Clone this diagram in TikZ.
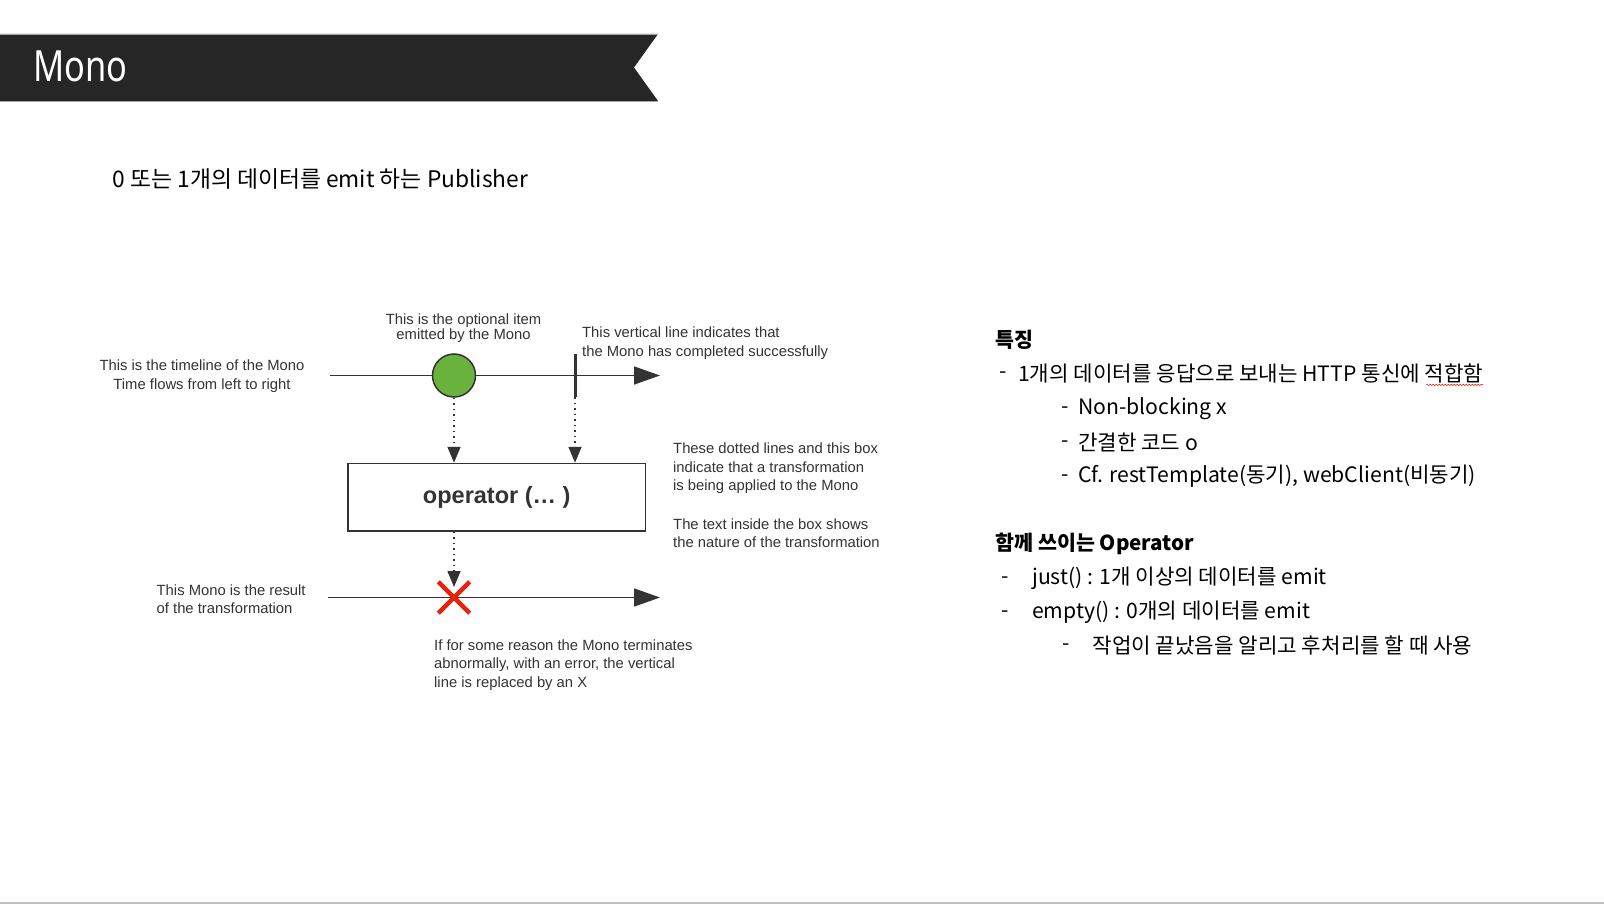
\documentclass[tikz,border=0pt]{standalone}
\usepackage{fontspec}
\usetikzlibrary{arrows.meta,decorations.pathmorphing}
\newfontfamily\kr{Noto Sans CJK KR}
\newfontfamily\lab{Liberation Sans}
\newfontfamily\ttl[FakeStretch=0.8]{Noto Sans}
\definecolor{banner}{RGB}{38,38,38}
\definecolor{ink}{RGB}{51,51,51}
\definecolor{itemgreen}{RGB}{106,178,62}
\definecolor{errred}{RGB}{232,33,11}
\begin{document}
\begin{tikzpicture}[x=1pt,y=-1pt,
  lbl/.style={font=\lab\fontsize{14.8}{18.4}\selectfont, text=ink, inner sep=0pt},
  body/.style={font=\kr\fontsize{21.2}{25}\selectfont, text=black, inner sep=0pt, anchor=west},
  bullet/.style={body, yshift=-2pt},
  head/.style={body, font=\kr\bfseries\fontsize{20.6}{25}\selectfont},
  tline/.style={draw=ink, line width=1.5pt, -{Triangle[length=26pt,width=18pt]}},
  dotarrow/.style={draw=ink, line width=1.5pt, dash pattern=on 1.5pt off 4pt, -{Triangle[length=16pt,width=13pt]}}
]
\useasboundingbox (0,0) rectangle (1604,904);
\fill[white] (0,0) rectangle (1604,904);
\draw[gray!50, line width=1.5pt] (0,903) -- (1604,903);

% banner
\fill[banner] (0,34) -- (658,34) -- (634,67.5) -- (658,101) -- (0,101) -- cycle;
\draw[gray!70, line width=0.8pt] (0,34) -- (658,34) (0,101) -- (658,101);
\node[anchor=west, text=white, font=\ttl\fontsize{43}{43}\selectfont, inner sep=0pt] (title) at (33,66) {Mono};

\node[body, font=\kr\fontsize{22.8}{27}\selectfont] (sub) at (112.5,179) {0 또는 1개의 데이터를 emit 하는 Publisher};

% diagram
\coordinate (t1s) at (330,375.5);
\coordinate (t1e) at (660,375.5);
\draw[tline] (t1s) -- (t1e);
\node[circle, draw=ink, line width=1.5pt, fill=itemgreen, minimum size=43pt, inner sep=0pt] (item) at (454,375.5) {};
\coordinate (doneT) at (575,354);
\coordinate (doneB) at (575,397);
\draw[ink, line width=3pt] (doneT) -- (doneB);
\node[draw=ink, line width=1.5pt, minimum width=297.5pt, minimum height=67.5pt, inner sep=0pt,
      font=\lab\bfseries\fontsize{23.5}{28}\selectfont, text=ink] (op) at (496.75,497.25) {operator (… )};
\draw[dotarrow] (item.south) -- (item.south |- op.north);
\draw[dotarrow] (doneB) -- (doneB |- op.north);
\coordinate (xtop) at (454,587);
\draw[dotarrow] (op.south -| item) -- (xtop);
\coordinate (t2s) at (328,597.5);
\coordinate (t2e) at (660,597.5);
\draw[tline] (t2s) -- (t2e);
\node[minimum size=31pt, inner sep=0pt] (err) at (454,597.5) {};
\draw[errred, line width=4.5pt] (err.north west) -- (err.south east) (err.north east) -- (err.south west);

% labels
\node[lbl, align=center] (l1) at (202,376.3) {This is the timeline of the Mono\\Time flows from left to right};
\node[lbl, align=center, font=\lab\fontsize{14.8}{15.6}\selectfont] (l2) at (463.5,328) {This is the optional item\\emitted by the Mono};
\node[lbl, align=left, anchor=west] (l3) at (582,343) {This vertical line indicates that\\the Mono has completed successfully};
\node[lbl, align=left, anchor=west] (l4) at (673,468.5) {These dotted lines and this box\\indicate that a transformation\\is being applied to the Mono};
\node[lbl, align=left, anchor=west] (l5) at (673,533) {The text inside the box shows\\the nature of the transformation};
\node[lbl, align=left, anchor=west] (l6) at (156.5,599.5) {This Mono is the result\\of the transformation};
\node[lbl, align=left, anchor=west] (l7) at (434,665) {If for some reason the Mono terminates\\abnormally, with an error, the vertical\\line is replaced by an X};

% right side
\node[head] (h1) at (995.5,339.6) {특징};
\node[bullet] (d1) at (999.5,373) {-};
\node[body] (a1) at (1018,373) {1개의 데이터를 응답으로 보내는 HTTP 통신에 적합함};
\draw[errred, line width=0.6pt, decorate, decoration={snake, amplitude=0.7pt, segment length=3pt}]
  ([xshift=-57pt, yshift=-2pt]a1.south east) -- ([yshift=-2pt]a1.south east);
\node[bullet] (d2) at (1061,408.6) {-};
\node[body] (a2) at (1078,408.6) {Non-blocking x};
\node[bullet] (d3) at (1061,442.4) {-};
\node[body] (a3) at (1078,442.4) {간결한 코드 o};
\node[bullet] (d4) at (1061,476.2) {-};
\node[body] (a4) at (1078,476.2) {Cf. restTemplate(동기), webClient(비동기)};

\node[head] (h2) at (995.5,543.5) {함께 쓰이는 Operator};
\node[bullet] (d5) at (1001.5,578) {-};
\node[body] (b1) at (1032,578) {just() : 1개 이상의 데이터를 emit};
\node[bullet] (d6) at (1001.5,612) {-};
\node[body] (b2) at (1032,612) {empty() : 0개의 데이터를 emit};
\node[bullet] (d7) at (1062,645.5) {-};
\node[body] (b3) at (1092.5,645.5) {작업이 끝났음을 알리고 후처리를 할 때 사용};
\end{tikzpicture}
\end{document}
